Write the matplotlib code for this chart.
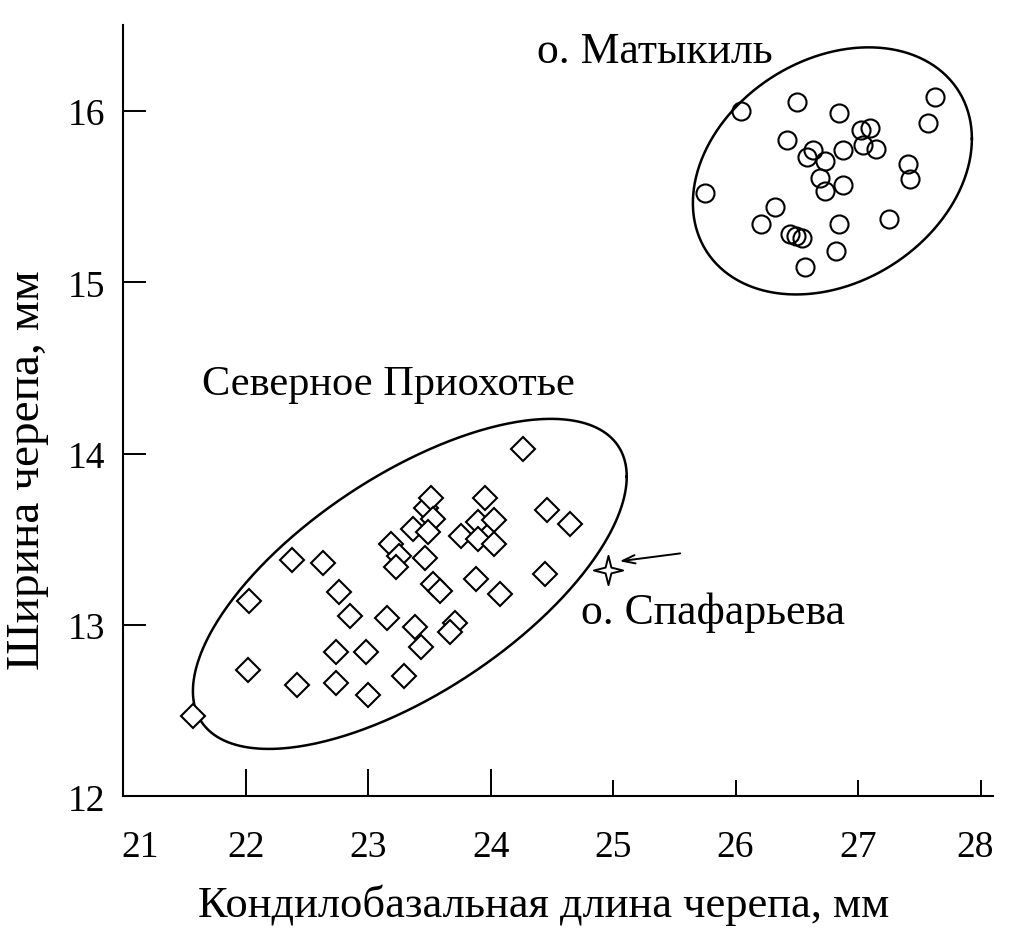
import numpy as np
import matplotlib
matplotlib.use('Agg')
import matplotlib.pyplot as plt
import matplotlib.transforms as mtransforms
from matplotlib.path import Path

# о. Матыкиль (кружки)
mat_x = [26.04, 26.50, 26.84, 27.63, 27.57, 26.42, 27.02, 27.10, 26.63, 26.58,
         26.88, 27.04, 27.15, 26.73, 27.41, 27.42, 26.69, 26.88, 26.73, 25.75,
         26.32, 26.21, 27.25, 26.84, 26.44, 26.49, 26.54, 26.82, 26.57]
mat_y = [16.00, 16.05, 15.99, 16.08, 15.93, 15.83, 15.89, 15.90, 15.77, 15.73,
         15.77, 15.80, 15.78, 15.71, 15.69, 15.60, 15.61, 15.57, 15.53, 15.52,
         15.44, 15.34, 15.37, 15.34, 15.28, 15.27, 15.26, 15.18, 15.09]

# Северное Приохотье (ромбы)
sev_x = [21.57, 22.02, 22.03, 22.38, 22.63, 22.42, 22.76, 22.85, 22.74, 22.74,
         22.98, 23.00, 23.15, 23.29, 23.19, 23.25, 23.23, 23.37, 23.47, 23.51,
         23.53, 23.49, 23.46, 23.38, 23.43, 23.53, 23.59, 23.76, 23.90, 23.90,
         23.95, 24.03, 24.03, 23.88, 23.71, 23.67, 24.08, 24.26, 24.46, 24.65,
         24.44]
sev_y = [12.47, 12.74, 13.14, 13.38, 13.36, 12.65, 13.19, 13.05, 12.84, 12.66,
         12.84, 12.59, 13.04, 12.70, 13.47, 13.40, 13.34, 13.56, 13.68, 13.74,
         13.62, 13.54, 13.39, 12.99, 12.87, 13.24, 13.20, 13.52, 13.60, 13.50,
         13.74, 13.61, 13.47, 13.27, 13.01, 12.96, 13.18, 14.03, 13.67, 13.59,
         13.30]

# о. Спафарьева (звёздочка)
spa_x = [24.96]
spa_y = [13.32]

# эллипсы: центр, полуоси, фазовый сдвиг (наклон)
ell_mat = (26.79, 15.65, 1.139, 0.721, np.arccos(0.26))
ell_sev = (23.34, 13.24, 1.771, 0.963, np.arccos(0.65))

x_ticks = [21, 22, 23, 24, 25, 26, 27, 28]
y_ticks = [12, 13, 14, 15, 16]

plt.rcParams['font.family'] = ['Liberation Serif', 'DejaVu Serif']

fig = plt.figure(figsize=(10.10, 9.37), dpi=100)
ax = fig.add_axes([0.122, 0.149, 0.861, 0.823])

t = np.linspace(0, 2 * np.pi, 400)
for cx, cy, rx, ry, ph in [ell_mat, ell_sev]:
    ax.plot(cx + rx * np.cos(t), cy + ry * np.cos(t - ph), color='black', lw=1.8)

ax.plot(mat_x, mat_y, 'o', ms=13, mfc='none', mec='black', mew=1.5)
ax.plot(sev_x, sev_y, 'D', ms=11.8, mfc='white', mec='black', mew=1.5)
star = Path.unit_regular_star(4, 0.28)
ax.plot(spa_x, spa_y, marker=star, ls='none', ms=21, mfc='white', mec='black', mew=1.4)

ax.annotate('', xy=(25.03, 13.37), xytext=(25.57, 13.42),
            arrowprops=dict(arrowstyle='->,head_length=0.9,head_width=0.3', color='black', lw=1.4))

ax.text(24.38, 16.35, 'о. Матыкиль', fontsize=31.5, va='center', ha='left')
ax.text(21.64, 14.41, 'Северное Приохотье', fontsize=30.5, va='center', ha='left')
ax.text(24.74, 13.08, 'о. Спафарьева', fontsize=31.5, va='center', ha='left')

ax.set_xlim(21, 28.1)
ax.set_ylim(12, 16.5)
ax.set_xticks(x_ticks)
ax.set_yticks(y_ticks)
ax.spines['top'].set_visible(False)
ax.spines['right'].set_visible(False)
for s in ['left', 'bottom']:
    ax.spines[s].set_linewidth(1.5)
ax.tick_params(direction='in', width=1.4, labelsize=27)
ax.tick_params(axis='x', pad=24)
ax.tick_params(axis='y', length=16.5, pad=13)
for i, tk in enumerate(ax.xaxis.get_major_ticks()):
    tk.tick1line.set_markersize(19.5 if i < 4 else 11.5)

# крайние подписи сдвинуты внутрь, как в оригинале
labs = ax.get_xticklabels()
labs[0].set_transform(labs[0].get_transform() + mtransforms.ScaledTranslation(0.17, 0, fig.dpi_scale_trans))
labs[-1].set_transform(labs[-1].get_transform() + mtransforms.ScaledTranslation(-0.06, 0, fig.dpi_scale_trans))

ax.set_xlabel('Кондилобазальная длина черепа, мм', fontsize=32)
ax.xaxis.set_label_coords(0.484, -0.1397)
ax.xaxis.label.set_va('center')
ax.set_ylabel('Ширина черепа, мм', fontsize=34)
ax.yaxis.set_label_coords(-0.1095, 0.4246)
ax.yaxis.label.set_va('center')

fig.savefig('out.png', dpi=100)
